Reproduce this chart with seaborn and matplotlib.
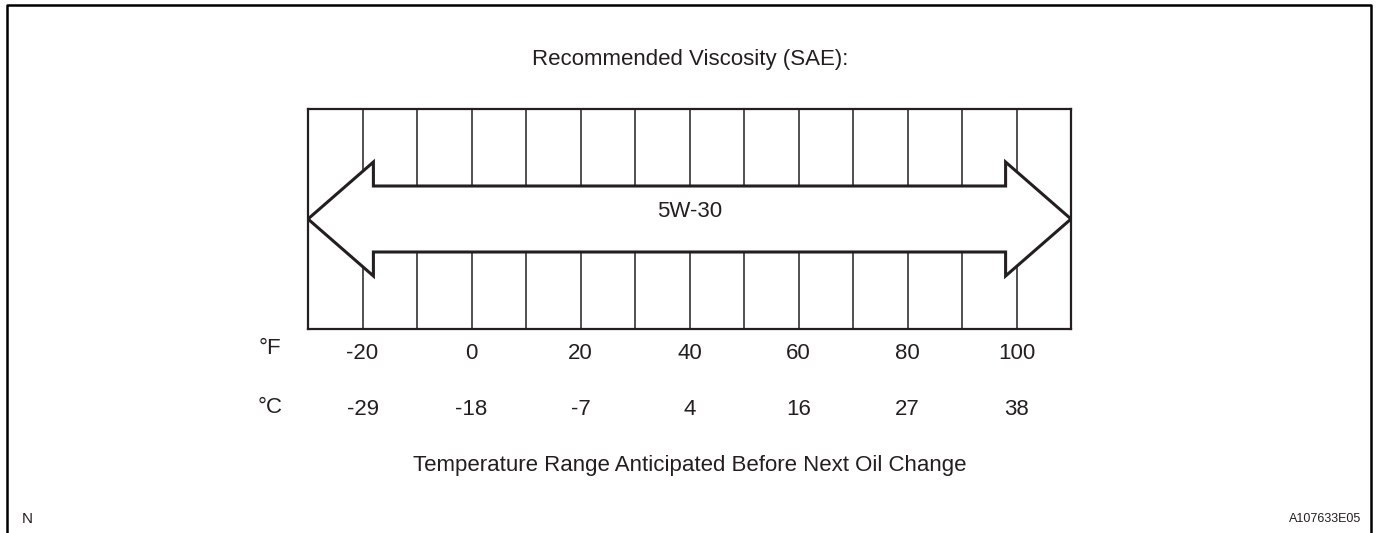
import numpy as np
import pandas as pd
import seaborn as sns
import matplotlib.pyplot as plt
from matplotlib.lines import Line2D

# chart data
grid_f = list(range(-30, 111, 10))           # column edges in °F
tick_f = [-20, 0, 20, 40, 60, 80, 100]
tick_c = [-29, -18, -7, 4, 16, 27, 38]
oil_grade = "5W-30"
oil_range_f = [-30, 110]                      # range covered by the arrow
title = "Recommended Viscosity (SAE):"
xlabel = "Temperature Range Anticipated Before Next Oil Change"

sns.set_theme(style="white")
plt.rcParams['font.family'] = ['Liberation Sans', 'DejaVu Sans']
ink = '#231f20'

W, H = 1377, 533
fig = plt.figure(figsize=(W / 100, H / 100), dpi=100)

# box: x pixels 308..1071, y pixels 109..329
ax = fig.add_axes([308 / W, 1 - 329 / H, 763 / W, 220 / H])
ax.set_xlim(oil_range_f[0], oil_range_f[1])
ax.set_ylim(0, 1)

grid_df = pd.DataFrame({'x': np.repeat(grid_f, 2), 'y': [0, 1] * len(grid_f),
                        'edge': np.repeat(grid_f, 2)})
sns.lineplot(data=grid_df, x='x', y='y', units='edge', estimator=None,
             color=ink, lw=1.1, ax=ax, sort=False)

# double headed arrow covering the viscosity range
lo, hi = oil_range_f
head = 12.0
mid, body, half = 0.5, 0.15, 0.259
ax_x = [lo, lo + head, lo + head, hi - head, hi - head, hi,
        hi - head, hi - head, lo + head, lo + head, lo]
ax_y = [mid, mid + half, mid + body, mid + body, mid + half, mid,
        mid - half, mid - body, mid - body, mid - half, mid]
ax.fill(ax_x, ax_y, facecolor='white', edgecolor=ink, lw=2.2, zorder=3,
        joinstyle='miter')
ax.text((lo + hi) / 2, 0.536, oil_grade, ha='center', va='center',
        fontsize=16, color=ink, zorder=4)

for s in ax.spines.values():
    s.set_visible(True)
    s.set_color(ink)
    s.set_linewidth(1.6)
ax.set_xticks([])
ax.set_yticks([])
ax.set_xlabel('')
ax.set_ylabel('')

trans = ax.get_xaxis_transform()
for f, c in zip(tick_f, tick_c):
    ax.text(f, -0.1136, str(f), transform=trans, ha='center', va='center',
            fontsize=16, color=ink, clip_on=False)
    ax.text(f, -0.364, str(c), transform=trans, ha='center', va='center',
            fontsize=16, color=ink, clip_on=False)
ax.text(-37.0, -0.09, '°F', transform=trans, ha='center', va='center',
        fontsize=16, color=ink, clip_on=False)
ax.text(-37.0, -0.355, '°C', transform=trans, ha='center', va='center',
        fontsize=16, color=ink, clip_on=False)

fig.text(690 / W, 1 - 60 / H, title, ha='center', va='center', fontsize=16, color=ink)
fig.text(690 / W, 1 - 466 / H, xlabel, ha='center', va='center', fontsize=16, color=ink)
fig.text(22 / W, 1 - 519 / H, 'N', ha='left', va='center', fontsize=11, color=ink)
fig.text(1361 / W, 1 - 519 / H, 'A107633E05', ha='right', va='center', fontsize=9, color=ink)

# outer frame (open at the bottom)
fx = [7 / W, 7 / W, 1371 / W, 1371 / W]
fy = [0, 1 - 5 / H, 1 - 5 / H, 0]
fig.add_artist(Line2D(fx, fy, color='black', lw=1.8, transform=fig.transFigure))

fig.savefig('out.png', dpi=100, facecolor='white')
